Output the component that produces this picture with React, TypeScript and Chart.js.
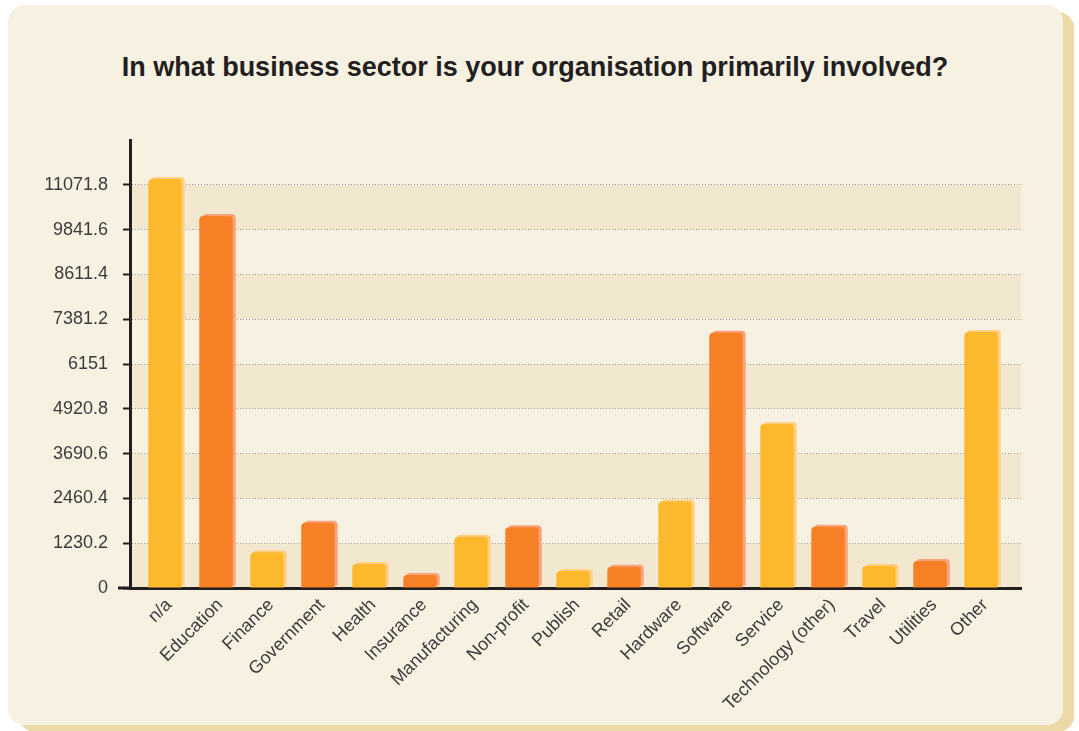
import React, { useEffect, useRef } from "react";
import { Chart, registerables } from "chart.js";

Chart.register(...registerables);

const chartTitle = "In what business sector is your organisation primarily involved?";

const categories = [
  "n/a",
  "Education",
  "Finance",
  "Government",
  "Health",
  "Insurance",
  "Manufacturing",
  "Non-profit",
  "Publish",
  "Retail",
  "Hardware",
  "Software",
  "Service",
  "Technology (other)",
  "Travel",
  "Utilities",
  "Other",
];

const responses = [
  11231, 10215, 980, 1793, 659, 357, 1409, 1667, 467, 585, 2375, 7011, 4503, 1683, 604, 741, 7030,
];

const yTickValues = [0, 1230.2, 2460.4, 3690.6, 4920.8, 6151, 7381.2, 8611.4, 9841.6, 11071.8];
const yTickLabels = ["0", "1230.2", "2460.4", "3690.6", "4920.8", "6151", "7381.2", "8611.4", "9841.6", "11071.8"];
const yMax = 12302;

const YELLOW = "#FDB92E";
const ORANGE = "#F58025";
const SHADOWS = ["#FFD083", "#F9A27C"];
const FONT = '"Liberation Sans", Arial, Helvetica, sans-serif';

const bandsPlugin = {
  id: "bands",
  beforeDraw(chart: any) {
    const { ctx, chartArea } = chart;
    const y = chart.scales.y;
    ctx.save();
    ctx.fillStyle = "#F2E8CF";
    for (let i = 0; i < yTickValues.length; i += 2) {
      const lo = y.getPixelForValue(yTickValues[i]);
      const hiVal = i + 1 < yTickValues.length ? yTickValues[i + 1] : yMax;
      const hi = y.getPixelForValue(hiVal);
      ctx.fillRect(chartArea.left, hi, chartArea.right - chartArea.left, lo - hi);
    }
    ctx.restore();
  },
  afterDraw(chart: any) {
    const { ctx, chartArea } = chart;
    const yb = chart.scales.x.top;
    ctx.save();
    ctx.fillStyle = "#231F20";
    ctx.fillRect(chartArea.left - 12, yb - 1.5, 12, 3);
    ctx.restore();
  },
};

const shadowPlugin = {
  id: "barShadow",
  beforeDatasetDraw(chart: any, args: any) {
    const ctx = chart.ctx;
    ctx.save();
    ctx.shadowColor = SHADOWS[args.index % SHADOWS.length];
    ctx.shadowOffsetX = 3;
    ctx.shadowOffsetY = -2;
    ctx.shadowBlur = 0;
  },
  afterDatasetDraw(chart: any) {
    chart.ctx.restore();
  },
};

export default function App() {
  const ref = useRef<HTMLCanvasElement | null>(null);

  useEffect(() => {
    if (!ref.current) return;
    const points = responses.map((v, i) => ({ x: i, y: v }));
    const chart = new Chart(ref.current, {
      type: "bar",
      data: {
        datasets: [
          {
            data: points.filter((_, i) => i % 2 === 0),
            backgroundColor: YELLOW,
          },
          {
            data: points.filter((_, i) => i % 2 === 1),
            backgroundColor: ORANGE,
          },
        ],
      },
      plugins: [bandsPlugin, shadowPlugin],
      options: {
        responsive: false,
        animation: false,
        layout: { padding: { top: 140, right: 58, left: 0, bottom: 0 } },
        plugins: {
          legend: { display: false },
          tooltip: { enabled: false },
          title: { display: false },
        },
        datasets: {
          bar: {
            grouped: false,
            categoryPercentage: 1,
            barPercentage: 0.655,
            borderRadius: 4,
            borderSkipped: "bottom",
            borderWidth: 0,
          },
        },
        scales: {
          x: {
            type: "linear",
            offset: false,
            min: -0.686,
            max: 16.784,
            afterBuildTicks: (s: any) => {
              s.ticks = categories.map((_, i) => ({ value: i }));
            },
            afterFit: (s: any) => {
              s.height = 143;
            },
            grid: { display: false, drawTicks: false, offset: false },
            border: { display: true, color: "#231F20", width: 3 },
            ticks: {
              autoSkip: false,
              minRotation: 45,
              maxRotation: 45,
              padding: 10,
              color: "#3C3C3C",
              showLabelBackdrop: true,
              backdropColor: "rgba(0,0,0,0)",
              backdropPadding: 0,
              font: { family: FONT, size: 18, lineHeight: 0.65 },
              callback: (v: any) => categories[v as number] ?? "",
            },
          },
          y: {
            min: 0,
            max: yMax,
            afterBuildTicks: (s: any) => {
              s.ticks = yTickValues.map((v) => ({ value: v }));
            },
            afterFit: (s: any) => {
              s.width = 130;
            },
            grid: {
              color: "#A8A194",
              lineWidth: 1,
              tickLength: 7,
              tickColor: "#231F20",
              tickWidth: 2,
              tickBorderDash: [],
            },
            border: { display: true, color: "#231F20", width: 3, dash: [1, 2] },
            ticks: {
              padding: 15,
              color: "#3C3C3C",
              font: { family: FONT, size: 18 },
              callback: (_v: any, i: number) => yTickLabels[i],
            },
          },
        },
      } as any,
    });
    return () => chart.destroy();
  }, []);

  return (
    <div style={{ position: "fixed", left: 0, top: 0, width: 1079, height: 731, overflow: "hidden" }}>
      <div
        style={{
          position: "absolute",
          left: 19,
          top: 12,
          width: 1055,
          height: 720,
          borderRadius: 16,
          background: "#EBD9A8",
        }}
      />
      <div
        style={{
          position: "absolute",
          left: 8,
          top: 5,
          width: 1055,
          height: 720,
          borderRadius: 16,
          background: "#F7F1E2",
        }}
      />
      <div
        style={{
          position: "absolute",
          left: 0,
          top: 54,
          width: 1070,
          textAlign: "center",
          fontFamily: FONT,
          fontWeight: "bold",
          fontSize: 27,
          lineHeight: "27px",
          color: "#231F20",
          whiteSpace: "nowrap",
        }}
      >
        {chartTitle}
      </div>
      <canvas ref={ref} width={1079} height={731} style={{ position: "absolute", left: 0, top: 0 }} />
    </div>
  );
}
